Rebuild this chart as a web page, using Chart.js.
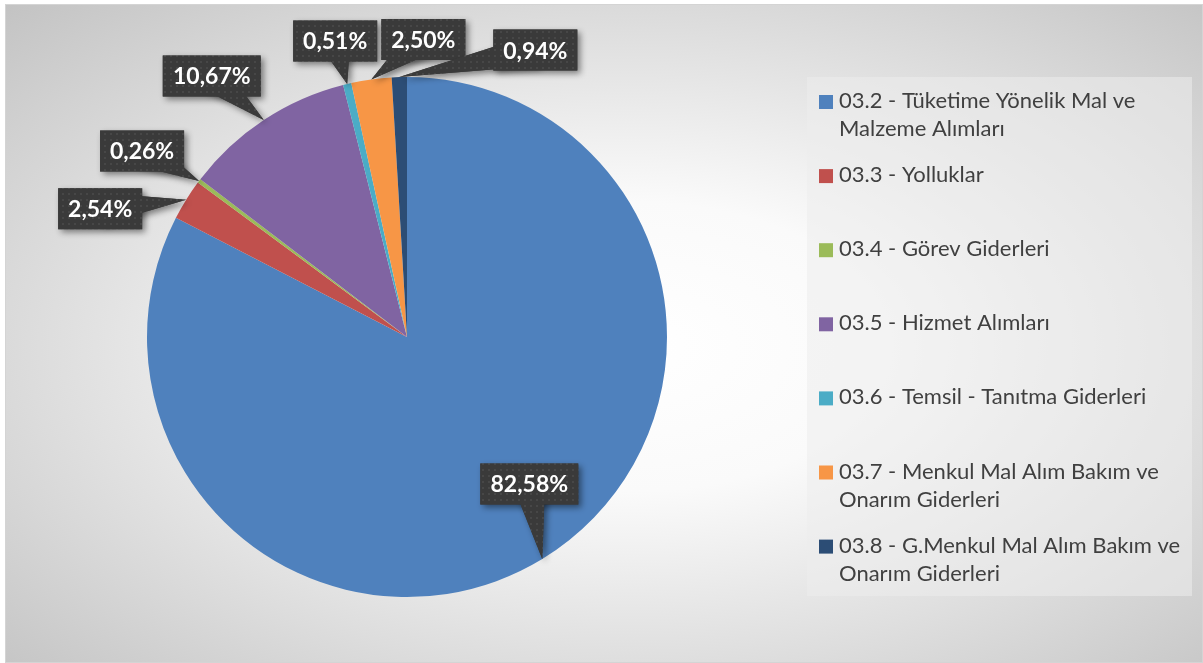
<!DOCTYPE html>
<html>
<head>
<meta charset="utf-8">
<script src="https://cdn.jsdelivr.net/npm/chart.js@4.4.1/dist/chart.umd.min.js"></script>
<style>
  html, body { margin: 0; padding: 0; background: #fff; }
  #wrap {
    position: absolute; left: 5px; top: 4px;
    width: 1196px; height: 657px;
    border: 1px solid #d4d4d4;
    background: radial-gradient(farthest-corner at 52% 52%, #ffffff 0%, #fafafa 30%, #c3c3c3 100%);
  }
  canvas { display: block; }
</style>
</head>
<body>
<div id="wrap"><canvas id="pie" width="1196" height="657"></canvas></div>
<script>
// categories (legend text, already split into lines like the original)
const categories = [
  ["03.2 - Tüketime Yönelik Mal ve", "Malzeme Alımları"],
  ["03.3 - Yolluklar"],
  ["03.4 - Görev Giderleri"],
  ["03.5 - Hizmet Alımları"],
  ["03.6 - Temsil - Tanıtma Giderleri"],
  ["03.7 - Menkul Mal Alım Bakım ve", "Onarım Giderleri"],
  ["03.8 - G.Menkul Mal Alım Bakım ve", "Onarım Giderleri"]
];
const shares = [82.58, 2.54, 0.26, 10.67, 0.51, 2.50, 0.94];
const sliceColors = ["#4F81BD", "#C0504D", "#9BBB59", "#8064A2", "#4BACC6", "#F79646", "#2C4D75"];

// where each callout box sits, relative to the point on the slice edge
const calloutOffsets = [[-13, -75], [-86, 9], [-57, -30], [-52, -44], [-12, -43], [52, -40], [136, -27]];

const fmt = v => v.toFixed(2).replace(".", ",") + "%";

// dotted dark fill used by the callouts
const tile = document.createElement("canvas");
tile.width = 6; tile.height = 6;
const tctx = tile.getContext("2d");
tctx.fillStyle = "#3a3a3a"; tctx.fillRect(0, 0, 6, 6);
tctx.fillStyle = "#474747"; tctx.fillRect(2, 2, 2, 2);

const calloutPlugin = {
  id: "callouts",
  afterDatasetsDraw(chart) {
    const ctx = chart.ctx;
    const meta = chart.getDatasetMeta(0);
    const pattern = ctx.createPattern(tile, "repeat");
    ctx.save();
    ctx.font = "bold 23px Lato";
    meta.data.forEach((arc, i) => {
      const p = arc.getProps(["x", "y", "startAngle", "endAngle", "outerRadius"], true);
      const mid = (p.startAngle + p.endAngle) / 2;
      const tipX = p.x + Math.cos(mid) * p.outerRadius;
      const tipY = p.y + Math.sin(mid) * p.outerRadius;
      const cx = tipX + calloutOffsets[i][0];
      const cy = tipY + calloutOffsets[i][1];
      const text = fmt(shares[i]);
      const w = Math.round(ctx.measureText(text).width + 20);
      const h = 41;

      const dx = tipX - cx, dy = tipY - cy, len = Math.hypot(dx, dy);
      const px = -dy / len * 16, py = dx / len * 16;
      const shape = () => {
        ctx.beginPath();
        ctx.rect(cx - w / 2, cy - h / 2, w, h);
        ctx.fill();
        ctx.beginPath();
        ctx.moveTo(cx + px, cy + py);
        ctx.lineTo(tipX, tipY);
        ctx.lineTo(cx - px, cy - py);
        ctx.closePath();
        ctx.fill();
      };
      ctx.fillStyle = pattern;
      // shadow pass, then a clean pass on top
      ctx.shadowColor = "rgba(0,0,0,0.45)";
      ctx.shadowBlur = 6;
      ctx.shadowOffsetX = 3;
      ctx.shadowOffsetY = 3;
      shape();
      ctx.shadowColor = "transparent";
      shape();

      ctx.fillStyle = "#ffffff";
      ctx.textAlign = "center";
      ctx.textBaseline = "middle";
      ctx.fillText(text, cx, cy + 1);
    });
    ctx.restore();
  }
};

const legendPlugin = {
  id: "sideLegend",
  afterDraw(chart) {
    const ctx = chart.ctx;
    const colors = chart.data.datasets[0].backgroundColor;
    ctx.save();
    ctx.fillStyle = "rgba(236,236,236,0.55)";
    ctx.fillRect(801, 72, 385, 519);
    ctx.font = "22px Lato";
    ctx.textBaseline = "middle";
    ctx.textAlign = "left";
    chart.data.labels.forEach((lines, i) => {
      const y = 96 + i * 74.1;
      ctx.fillStyle = colors[i];
      ctx.fillRect(813, y - 6, 14, 14);
      ctx.fillStyle = "#404040";
      lines.forEach((ln, j) => ctx.fillText(ln, 833, y + j * 28));
    });
    ctx.restore();
  }
};

new Chart(document.getElementById("pie"), {
  type: "pie",
  data: {
    labels: categories,
    datasets: [{
      data: shares,
      backgroundColor: sliceColors,
      borderWidth: 0
    }]
  },
  options: {
    responsive: false,
    animation: false,
    layout: { padding: { left: 141, right: 535, top: 72, bottom: 65 } },
    plugins: {
      legend: { display: false },
      tooltip: { enabled: false }
    }
  },
  plugins: [calloutPlugin, legendPlugin]
});
</script>
</body>
</html>
